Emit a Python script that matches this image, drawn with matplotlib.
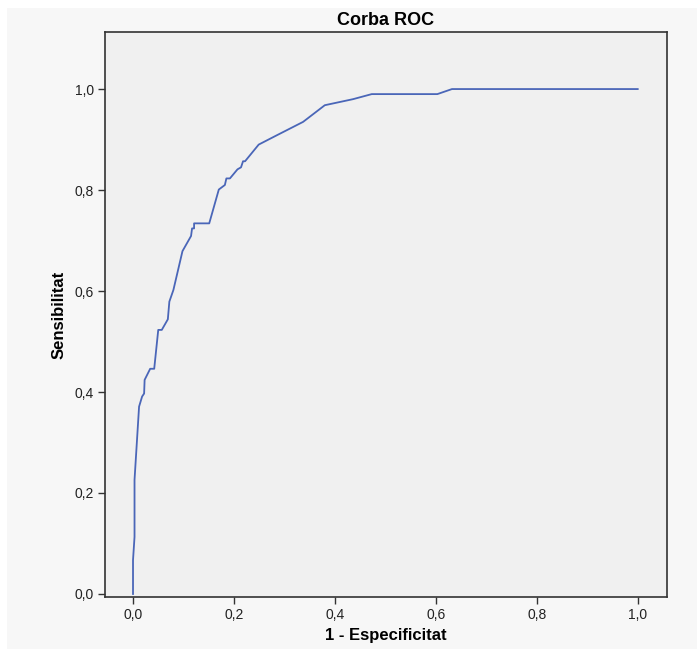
import matplotlib
matplotlib.use("Agg")
import matplotlib.pyplot as plt
from matplotlib.patches import Rectangle

plt.rcParams['font.family'] = ['Liberation Sans', 'DejaVu Sans']

# punts de la corba ROC (1 - especificitat, sensibilitat)
fpr = [0.0, 0.0, 0.003, 0.003, 0.012, 0.018, 0.022, 0.023, 0.034, 0.042,
       0.050, 0.057, 0.069, 0.072, 0.080, 0.098, 0.115, 0.117, 0.121, 0.121,
       0.151, 0.170, 0.182, 0.185, 0.192, 0.207, 0.214, 0.218, 0.222, 0.249,
       0.284, 0.337, 0.380, 0.436, 0.473, 0.603, 0.632, 1.0]
tpr = [0.0, 0.067, 0.113, 0.226, 0.371, 0.391, 0.397, 0.424, 0.446, 0.446,
       0.523, 0.523, 0.544, 0.579, 0.602, 0.679, 0.709, 0.724, 0.724, 0.734,
       0.734, 0.801, 0.810, 0.823, 0.823, 0.841, 0.845, 0.857, 0.857, 0.890,
       0.908, 0.935, 0.968, 0.980, 0.990, 0.990, 1.0, 1.0]
ticks = [0.0, 0.2, 0.4, 0.6, 0.8, 1.0]
tick_labels = ['0,0', '0,2', '0,4', '0,6', '0,8', '1,0']

fig = plt.figure(figsize=(6.97, 6.49), dpi=100, facecolor='white')
# fons gris clar de l'SPSS
fig.patches.append(Rectangle((7 / 697, 0), 1, 1 - 8 / 649, transform=fig.transFigure,
                             facecolor='#f7f7f7', edgecolor='none', zorder=-10))

ax = fig.add_axes([105 / 697, 1 - 597 / 649, 562 / 697, 565 / 649])
ax.set_facecolor('#f0f0f0')
ax.plot(fpr, tpr, color='#4a66b8', lw=1.3)

ax.set_xlim(-0.0555, 1.058)
ax.set_ylim(-0.006, 1.113)
ax.set_xticks(ticks)
ax.set_xticklabels(tick_labels)
ax.set_yticks(ticks)
ax.set_yticklabels(tick_labels)
ax.tick_params(direction='out', length=5, width=1, color='#333333',
               labelsize=10, labelcolor='#222222', pad=3)
for s in ax.spines.values():
    s.set_color('#333333')
    s.set_linewidth(1.2)

ax.set_title('Corba ROC', fontsize=13, fontweight='bold', pad=5)
ax.set_xlabel('1 - Especificitat', fontsize=12, fontweight='bold', labelpad=4)
ax.set_ylabel('Sensibilitat', fontsize=12, fontweight='bold', labelpad=6)

fig.savefig('out.png', dpi=100, facecolor=fig.get_facecolor())
